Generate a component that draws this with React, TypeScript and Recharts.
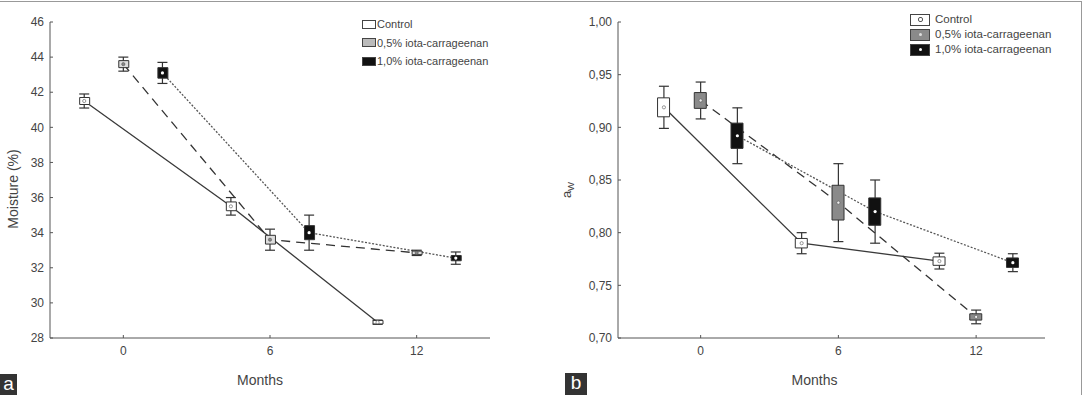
import React from 'react';
import { ComposedChart, Line, Bar, Cell, Scatter, ErrorBar, XAxis, YAxis, Label } from 'recharts';

// shared
const months = [0, 6, 12];
const seriesNames = ['Control', '0,5% iota-carrageenan', '1,0% iota-carrageenan'];
const seriesShift = [-1.6, 0, 1.6];
const monthTicks = [0, 6, 12];

// panel a – moisture (%)
const moistControl = [41.5, 35.5, 28.9];
const moist05 = [43.6, 33.6, 32.85];
const moist10 = [43.1, 34.0, 32.55];
const moistBoxControl = [0.2, 0.25, 0.1];
const moistBox05 = [0.2, 0.25, 0.1];
const moistBox10 = [0.3, 0.4, 0.15];
const moistErrControl = [0.4, 0.5, 0.12];
const moistErr05 = [0.4, 0.6, 0.15];
const moistErr10 = [0.6, 1.0, 0.35];
const moistTicks = [28, 30, 32, 34, 36, 38, 40, 42, 44, 46];

// panel b – water activity
const awControl = [0.919, 0.79, 0.773];
const aw05 = [0.9255, 0.8285, 0.72];
const aw10 = [0.892, 0.82, 0.7715];
const awBoxControl = [0.009, 0.0045, 0.004];
const awBox05 = [0.0075, 0.0165, 0.003];
const awBox10 = [0.012, 0.013, 0.0045];
const awErrControl = [0.02, 0.01, 0.0075];
const awErr05 = [0.0175, 0.037, 0.0065];
const awErr10 = [0.0265, 0.03, 0.0085];
const awTicks = [0.7, 0.75, 0.8, 0.85, 0.9, 0.95, 1.0];

const FONT = '"Liberation Sans", Arial, sans-serif';
const lineStroke = ['#3a3a3a', '#333', '#555'];
const lineDash = [undefined, '9 6', '2 1.6'];

interface PanelProps {
  means: number[][];
  boxes: number[][];
  errs: number[][];
  boxFills: string[];
  dotFills: string[];
  domainX: [number, number];
  domainY: [number, number];
  ticksY: number[];
  fmtY: (v: number) => string;
  yAxisWidth: number;
  marginRight: number;
  barSize: number;
  capWidth: number;
  titleDx: number;
  yTitle: (vb: any) => React.ReactNode;
}

function Panel(p: PanelProps) {
  const lines = p.means.map((vals, s) =>
    vals.map((y, i) => ({ x: months[i] + seriesShift[s], y, err: p.errs[s][i] }))
  );
  const boxRows = p.means.flatMap((vals, s) =>
    vals.map((y, i) => ({ x: months[i] + seriesShift[s], box: [y - p.boxes[s][i], y + p.boxes[s][i]], s }))
  );

  return (
    <ComposedChart
      width={542}
      height={395}
      data={boxRows}
      margin={{ top: 22, right: p.marginRight, bottom: 0, left: 0 }}
      style={{ fontFamily: FONT }}
    >
      <XAxis
        dataKey="x"
        type="number"
        domain={p.domainX}
        ticks={monthTicks}
        allowDataOverflow
        height={57}
        stroke="#555"
        tickSize={-3}
        tickMargin={11}
        tick={{ fontSize: 12, fill: '#444' }}
      >
        <Label value="Months" position="insideBottom" offset={10} dx={p.titleDx} style={{ fontSize: 14, fill: '#444' }} />
      </XAxis>
      <YAxis
        type="number"
        domain={p.domainY}
        ticks={p.ticksY}
        width={p.yAxisWidth}
        stroke="#555"
        tickSize={-3}
        tickMargin={9}
        tickFormatter={p.fmtY}
        tick={{ fontSize: 12, fill: '#444' }}
        interval={0}
      >
        <Label content={(lp: any) => p.yTitle(lp.viewBox)} />
      </YAxis>
      {lines.map((d, s) => (
        <Line
          key={'l' + s}
          data={d}
          dataKey="y"
          type="linear"
          stroke={lineStroke[s]}
          strokeWidth={1.3}
          strokeDasharray={lineDash[s]}
          dot={false}
          activeDot={false}
          legendType="none"
          isAnimationActive={false}
          zIndex={100}
        />
      ))}
      {lines.map((d, s) => (
        <Scatter
          key={'w' + s}
          data={d}
          dataKey="y"
          shape={() => <g />}
          legendType="none"
          isAnimationActive={false}
          zIndex={200}
        >
          <ErrorBar dataKey="err" direction="y" width={p.capWidth} stroke="#333" strokeWidth={1.2} zIndex={200} isAnimationActive={false} />
        </Scatter>
      ))}
      <Bar dataKey="box" barSize={p.barSize} legendType="none" isAnimationActive={false} zIndex={300}>
        {boxRows.map((r, i) => (
          <Cell key={i} fill={p.boxFills[r.s]} stroke="#333" strokeWidth={1} />
        ))}
      </Bar>
      {lines.map((d, s) => (
        <Scatter
          key={'c' + s}
          data={d}
          dataKey="y"
          legendType="none"
          isAnimationActive={false}
          zIndex={400}
          shape={(sp: any) => (
            <circle cx={sp.cx} cy={sp.cy} r={1.6} fill={p.dotFills[s]} stroke={s === 2 ? 'none' : '#555'} strokeWidth={0.6} />
          )}
        />
      ))}
    </ComposedChart>
  );
}

function LegendA() {
  const fills = ['#fff', '#bbb', '#111'];
  return (
    <div style={{ position: 'absolute', left: 362, top: 15, fontFamily: FONT, fontSize: 11, color: '#444', lineHeight: '18.5px' }}>
      {seriesNames.map((n, i) => (
        <div key={n} style={{ display: 'flex', alignItems: 'center', whiteSpace: 'nowrap' }}>
          <span
            style={{
              display: 'inline-block',
              width: 12,
              height: 7,
              background: fills[i],
              border: '1px solid #444',
              marginRight: 1,
            }}
          />
          {n}
        </div>
      ))}
    </div>
  );
}

function LegendB() {
  const fills = ['#fff', '#8a8a8a', '#111'];
  return (
    <div style={{ position: 'absolute', left: 910, top: 12, fontFamily: FONT, fontSize: 11.5, color: '#444', lineHeight: '15px' }}>
      {seriesNames.map((n, i) => (
        <div key={n} style={{ display: 'flex', alignItems: 'center', whiteSpace: 'nowrap' }}>
          <span
            style={{
              display: 'inline-flex',
              alignItems: 'center',
              justifyContent: 'center',
              width: 18,
              height: 10,
              background: fills[i],
              border: '1px solid #444',
              marginRight: 5,
            }}
          >
            <span
              style={{
                width: 3,
                height: 3,
                borderRadius: 2,
                background: i === 1 ? '#ddd' : '#fff',
                border: i === 0 ? '1px solid #555' : 'none',
              }}
            />
          </span>
          {n}
        </div>
      ))}
    </div>
  );
}

const moistureTitle = (vb: any) => {
  const x = vb.x + 13;
  const y = vb.y + vb.height / 2 + 9;
  return (
    <text x={x} y={y} transform={`rotate(-90 ${x} ${y})`} textAnchor="middle" dominantBaseline="central" fontSize={14} fill="#444" fontFamily={FONT}>
      Moisture (%)
    </text>
  );
};

const awTitle = (vb: any) => {
  const x = vb.x + 24;
  const y = vb.y + vb.height / 2 + 10;
  return (
    <text x={x} y={y} transform={`rotate(-90 ${x} ${y})`} textAnchor="middle" dominantBaseline="central" fontSize={13} fill="#444" fontFamily={FONT}>
      a<tspan fontSize={9.5} dy={4}>W</tspan>
    </text>
  );
};

const letterStyle: React.CSSProperties = {
  position: 'absolute',
  background: '#333',
  color: '#fff',
  fontFamily: FONT,
  fontSize: 19,
  lineHeight: '20px',
  textAlign: 'center',
};

export default function App() {
  return (
    <div style={{ position: 'relative', width: 1084, height: 395, background: '#fff', overflow: 'hidden' }}>
      <style>{'body{margin:0}'}</style>
      <div style={{ position: 'absolute', left: 0, top: 1, width: 1081, height: 400, borderTop: '1px solid #999', borderRight: '1px solid #999' }} />
      <div style={{ position: 'absolute', left: 0, top: 0 }}>
        <Panel
          means={[moistControl, moist05, moist10]}
          boxes={[moistBoxControl, moistBox05, moistBox10]}
          errs={[moistErrControl, moistErr05, moistErr10]}
          boxFills={['#fff', '#ddd', '#111']}
          dotFills={['#fff', '#888', '#fff']}
          domainX={[-3, 15]}
          domainY={[28, 46]}
          ticksY={moistTicks}
          fmtY={(v) => String(v)}
          yAxisWidth={50}
          marginRight={52}
          barSize={10}
          capWidth={5}
          titleDx={-10}
          yTitle={moistureTitle}
        />
      </div>
      <div style={{ position: 'absolute', left: 542, top: 0 }}>
        <Panel
          means={[awControl, aw05, aw10]}
          boxes={[awBoxControl, awBox05, awBox10]}
          errs={[awErrControl, awErr05, awErr10]}
          boxFills={['#fff', '#8a8a8a', '#111']}
          dotFills={['#fff', '#eee', '#fff']}
          domainX={[-3.6, 15]}
          domainY={[0.7, 1.0]}
          ticksY={awTicks}
          fmtY={(v) => v.toFixed(2).replace('.', ',')}
          yAxisWidth={76}
          marginRight={39}
          barSize={12}
          capWidth={5}
          titleDx={-17}
          yTitle={awTitle}
        />
      </div>
      <LegendA />
      <LegendB />
      <div style={{ ...letterStyle, left: 0, top: 374, width: 17, height: 21 }}>a</div>
      <div style={{ ...letterStyle, left: 565, top: 373, width: 22, height: 22 }}>b</div>
    </div>
  );
}
